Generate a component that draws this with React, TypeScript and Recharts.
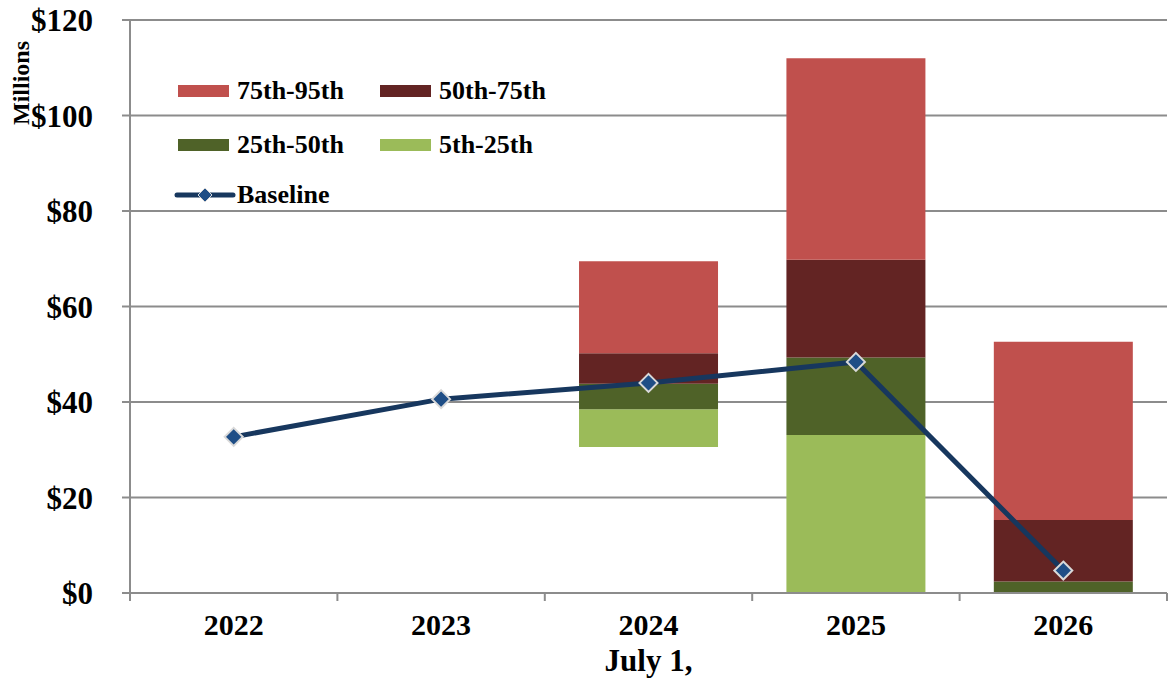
import React from "react";
import {
  ComposedChart,
  Bar,
  Line,
  XAxis,
  YAxis,
  CartesianGrid,
  Legend,
  Label,
} from "recharts";

const years = ["2022", "2023", "2024", "2025", "2026"];
// percentile bounds, $ millions (null = no simulated range that year)
const p5 = [null, null, 30.6, 0, 0];
const p25 = [null, null, 38.5, 33.1, 0];
const p50 = [null, null, 43.8, 49.3, 2.4];
const p75 = [null, null, 50.2, 69.8, 15.3];
const p95 = [null, null, 69.5, 112.0, 52.6];
const baseline = [32.7, 40.6, 44.0, 48.4, 4.7];
const yTicks = [0, 20, 40, 60, 80, 100, 120];

const W = 1169;
const H = 681;
const LEFT = 130;
const RIGHT = 2;
const BAND = (W - LEFT - RIGHT) / years.length;

const FONT = '"Liberation Serif", "Times New Roman", serif';
const AXIS = "#8C8C8C";

const COLORS = {
  red: "#C0504D",
  darkRed: "#632423",
  darkGreen: "#4F6228",
  lightGreen: "#9BBB59",
  line: "#17375E",
  marker: "#1F4E86",
};

const diff = (a: (number | null)[], b: (number | null)[], i: number) =>
  a[i] == null || b[i] == null ? 0 : (a[i] as number) - (b[i] as number);

const data = years.map((year, i) => ({
  year,
  base: p5[i] ?? 0,
  r5_25: diff(p25, p5, i),
  r25_50: diff(p50, p25, i),
  r50_75: diff(p75, p50, i),
  r75_95: diff(p95, p75, i),
  baseline: baseline[i],
}));

function Diamond({ cx, cy }: any) {
  if (cx == null || cy == null) return null;
  const r = 9;
  return (
    <path
      d={`M${cx},${cy - r} L${cx + r},${cy} L${cx},${cy + r} L${cx - r},${cy} Z`}
      fill={COLORS.marker}
      stroke="#D9D9D9"
      strokeWidth={2}
    />
  );
}

function XTick({ x, y, payload, index }: any) {
  const left = x - BAND / 2;
  const right = x + BAND / 2;
  return (
    <g>
      <line x1={left} y1={y} x2={left} y2={y + 8} stroke={AXIS} strokeWidth={2} />
      {index === years.length - 1 && (
        <line x1={right} y1={y} x2={right} y2={y + 8} stroke={AXIS} strokeWidth={2} />
      )}
      <text
        x={x}
        y={y + 31}
        textAnchor="middle"
        dominantBaseline="central"
        fontFamily={FONT}
        fontWeight={700}
        fontSize={30}
        fill="#000"
      >
        {payload.value}
      </text>
    </g>
  );
}

const legendText: React.CSSProperties = {
  fontFamily: FONT,
  fontWeight: 700,
  fontSize: 26,
  color: "#000",
  whiteSpace: "nowrap",
  position: "absolute",
  lineHeight: "26px",
};

function LegendBox() {
  const items = [
    { label: "75th-95th", color: COLORS.red, x: 178, y: 91 },
    { label: "50th-75th", color: COLORS.darkRed, x: 380, y: 91 },
    { label: "25th-50th", color: COLORS.darkGreen, x: 178, y: 145 },
    { label: "5th-25th", color: COLORS.lightGreen, x: 380, y: 145 },
  ];
  return (
    <div style={{ position: "relative", width: 0, height: 0 }}>
      {items.map((it) => (
        <React.Fragment key={it.label}>
          <div
            style={{
              position: "absolute",
              left: it.x,
              top: it.y - 6,
              width: 51,
              height: 12,
              background: it.color,
            }}
          />
          <div style={{ ...legendText, left: it.x + 59, top: it.y - 13 }}>{it.label}</div>
        </React.Fragment>
      ))}
      <svg
        style={{ position: "absolute", left: 174, top: 183 }}
        width={62}
        height={24}
      >
        <line x1={3} y1={12} x2={59} y2={12} stroke={COLORS.line} strokeWidth={5} strokeLinecap="round" />
        <path d="M31,5 L38,12 L31,19 L24,12 Z" fill={COLORS.marker} stroke="#D9D9D9" strokeWidth={1} />
      </svg>
      <div style={{ ...legendText, left: 237, top: 182 }}>Baseline</div>
    </div>
  );
}

export default function App() {
  return (
    <div style={{ position: "absolute", left: 0, top: 0, background: "#fff" }}>
      <ComposedChart
        width={W}
        height={H}
        data={data}
        margin={{ top: 20, right: RIGHT, bottom: 0, left: 0 }}
        barCategoryGap="16.5%"
      >
        <CartesianGrid vertical={false} stroke={AXIS} strokeWidth={2} />
        <XAxis
          dataKey="year"
          height={88}
          axisLine={{ stroke: AXIS, strokeWidth: 2 }}
          tickLine={false}
          tickSize={0}
          tickMargin={0}
          tick={<XTick />}
          interval={0}
        >
          <Label
            value="July 1,"
            position="insideBottom"
            offset={10}
            style={{ fontFamily: FONT, fontWeight: 700, fontSize: 31, fill: "#000" }}
          />
        </XAxis>
        <YAxis
          width={LEFT}
          domain={[0, 120]}
          ticks={yTicks}
          interval={0}
          axisLine={{ stroke: AXIS, strokeWidth: 2 }}
          tickLine={{ stroke: AXIS, strokeWidth: 2 }}
          tickSize={8}
          tickMargin={29}
          tickFormatter={(v) => `$${v}`}
          tick={{ fill: "#000", fontFamily: FONT, fontWeight: 700, fontSize: 31 }}
        >
          <Label
            content={() => (
              <text
                x={21}
                y={83}
                transform="rotate(-90 21 83)"
                textAnchor="middle"
                dominantBaseline="central"
                fontFamily={FONT}
                fontWeight={700}
                fontSize={24}
                fill="#000"
              >
                Millions
              </text>
            )}
          />
        </YAxis>
        <Legend content={<LegendBox />} wrapperStyle={{ left: 0, top: 0, width: 0, height: 0 }} />
        <Bar dataKey="base" stackId="s" fill="transparent" isAnimationActive={false} legendType="none" />
        <Bar dataKey="r5_25" stackId="s" fill={COLORS.lightGreen} isAnimationActive={false} />
        <Bar dataKey="r25_50" stackId="s" fill={COLORS.darkGreen} isAnimationActive={false} />
        <Bar dataKey="r50_75" stackId="s" fill={COLORS.darkRed} isAnimationActive={false} />
        <Bar dataKey="r75_95" stackId="s" fill={COLORS.red} isAnimationActive={false} />
        <Line
          dataKey="baseline"
          stroke={COLORS.line}
          strokeWidth={5}
          dot={<Diamond />}
          activeDot={false}
          isAnimationActive={false}
        />
      </ComposedChart>
    </div>
  );
}
